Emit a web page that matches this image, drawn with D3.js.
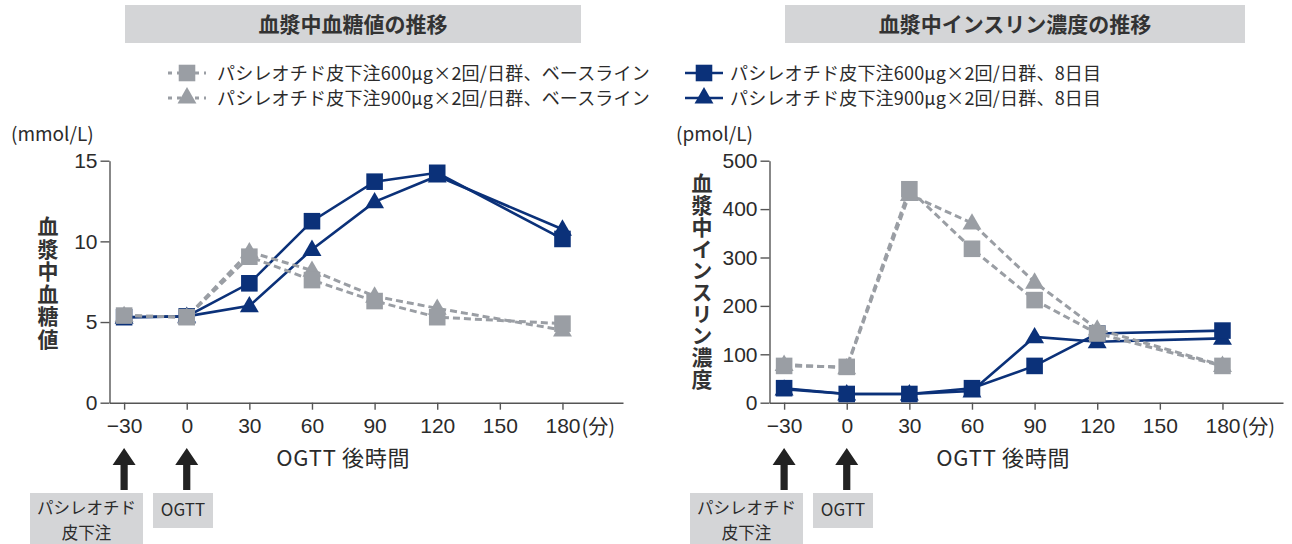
<!DOCTYPE html>
<html>
<head>
<meta charset="utf-8">
<script src="https://cdn.jsdelivr.net/npm/d3@7"></script>
<style>
  body { margin: 0; background: #fff; }
  svg { font-family: "Noto Sans CJK JP", "Noto Sans", sans-serif; }
</style>
</head>
<body>
<div id="chart"></div>
<script>
// sampling times (min after OGTT)
var minutes = [-30, 0, 30, 60, 90, 120, 180];
var xTicks = [-30, 0, 30, 60, 90, 120, 150, 180];

// plasma glucose (mmol/L)
var glucose600Base = [5.4, 5.3, 9.05, 7.6, 6.3, 5.3, 4.9];
var glucose900Base = [5.4, 5.3, 9.35, 8.2, 6.6, 5.85, 4.5];
var glucose600Day8 = [5.3, 5.35, 7.4, 11.25, 13.7, 14.25, 10.15];
var glucose900Day8 = [5.3, 5.35, 6.0, 9.5, 12.45, 14.05, 10.75];
var glucoseTicks = [0, 5, 10, 15];

// plasma insulin (pmol/L)
var insulin600Base = [76, 74, 441, 318, 212, 143, 76];
var insulin900Base = [79, 72, 430, 371, 249, 152, 77];
var insulin600Day8 = [30, 18, 18, 30, 76, 143, 149];
var insulin900Day8 = [28, 18, 18, 24, 136, 126, 133];
var insulinTicks = [0, 100, 200, 300, 400, 500];

var legendLabels = [
    "パシレオチド皮下注600μg×2回/日群、ベースライン",
    "パシレオチド皮下注900μg×2回/日群、ベースライン",
    "パシレオチド皮下注600μg×2回/日群、8日目",
    "パシレオチド皮下注900μg×2回/日群、8日目"
];

var blue = "#0b3179", grey = "#9a9ea4", boxGrey = "#d4d5d7", ink = "#2b2b2b";

var svg = d3.select("#chart").append("svg")
    .attr("width", 1292)
    .attr("height", 544);

// marker helpers
var sqSym = d3.symbol().type(d3.symbolSquare).size(275);
var triSym = d3.symbol().type(d3.symbolTriangle).size(155);

function drawPanel(opts) {
    var g = svg.append("g").attr("transform", "translate(" + opts.dx + ",0)");

    var x = d3.scaleLinear().domain([-37, 209]).range([109.5, 623]);
    var y = d3.scaleLinear().domain([0, opts.yMax]).range([402.7, 160.7]);

    // title box
    g.append("rect")
        .attr("x", 125).attr("y", 5)
        .attr("width", opts.boxW).attr("height", 38)
        .attr("fill", boxGrey);
    g.append("text")
        .attr("x", 125 + opts.boxW / 2).attr("y", 32)
        .attr("text-anchor", "middle")
        .style("font-size", "21px")
        .style("font-weight", "bold")
        .style("fill", "#333")
        .text(opts.title);

    // axes
    var yAxis = g.append("g")
        .attr("transform", "translate(109.5,0)")
        .call(d3.axisLeft(y).tickValues(opts.yTicks).tickSize(9).tickPadding(3).tickSizeOuter(0));
    var xAxis = g.append("g")
        .attr("transform", "translate(0,402.7)")
        .call(d3.axisBottom(x).tickValues(xTicks).tickSize(7).tickPadding(8).tickSizeOuter(0)
            .tickFormat(function(d) { return d < 0 ? "\u2212" + Math.abs(d) : d; }));
    [yAxis, xAxis].forEach(function(a) {
        a.selectAll("path, line").attr("stroke", "#555").attr("stroke-width", 1.4);
        a.selectAll("text").style("font-size", "21px").style("fill", ink).style("font-family", "inherit");
    });

    g.append("text")
        .attr("x", x(180) + 19).attr("y", 434)
        .style("font-size", "20px").style("fill", ink)
        .text("(分)");

    // unit
    g.append("text")
        .attr("x", opts.unitX).attr("y", 141)
        .style("font-size", "19px").style("fill", ink)
        .text(opts.unit);

    // vertical y title
    g.append("text")
        .attr("x", opts.yTitleX)
        .attr("y", opts.yTitleTop)
        .style("writing-mode", "vertical-rl")
        .style("font-size", "21px")
        .style("font-weight", "bold")
        .style("letter-spacing", opts.yTitleGap + "px")
        .style("fill", "#333")
        .text(opts.yTitle);

    // x title
    g.append("text")
        .attr("x", (x(-30) + x(180)) / 2).attr("y", 466)
        .attr("text-anchor", "middle")
        .style("font-size", "22px")
        .style("letter-spacing", "0.8px")
        .style("fill", ink)
        .text("OGTT\u2009後時間");

    // series
    var line = d3.line()
        .x(function(d, i) { return x(minutes[i]); })
        .y(function(d) { return y(d); });

    opts.series.forEach(function(s) {
        g.append("path")
            .datum(s.values)
            .attr("d", line)
            .attr("fill", "none")
            .attr("stroke", s.color)
            .attr("stroke-width", s.dashed ? 3 : 2.6)
            .attr("stroke-dasharray", s.dashed ? "7,4" : null);
        g.selectAll(null)
            .data(s.values)
            .enter().append("path")
            .attr("d", s.shape === "sq" ? sqSym : triSym)
            .attr("transform", function(d, i) {
                return "translate(" + x(minutes[i]) + "," + (y(d) + (s.shape === "tri" ? 1 : 0)) + ")";
            })
            .attr("fill", s.color);
    });

    // arrows under -30 and 0
    [-30, 0].forEach(function(m) {
        var cx = x(m);
        g.append("path")
            .attr("d", "M" + cx + ",448 L" + (cx + 11.5) + ",465 L" + (cx + 3.6) + ",465 L" + (cx + 3.6) + ",490 L" +
                (cx - 3.6) + ",490 L" + (cx - 3.6) + ",465 L" + (cx - 11.5) + ",465 Z")
            .attr("fill", "#222");
    });

    // annotation boxes
    g.append("rect").attr("x", 30).attr("y", 493).attr("width", 113).attr("height", 60).attr("fill", boxGrey);
    var note = g.append("text").attr("text-anchor", "middle")
        .style("font-size", "16.5px").style("fill", ink);
    note.append("tspan").attr("x", 86.5).attr("y", 514).text("パシレオチド");
    note.append("tspan").attr("x", 86.5).attr("y", 538.5).text("皮下注");
    g.append("rect").attr("x", 153).attr("y", 493).attr("width", 60).attr("height", 35).attr("fill", boxGrey);
    g.append("text").attr("x", 183).attr("y", 516).attr("text-anchor", "middle")
        .style("font-size", "17px").style("fill", ink).text("OGTT");
}

drawPanel({
    dx: 0, yMax: 15, yTicks: glucoseTicks, boxW: 456,
    title: "血漿中血糖値の推移", unit: "(mmol/L)", unitX: 11,
    yTitle: "血漿中血糖値", yTitleX: 48, yTitleTop: 216, yTitleGap: 1.5,
    series: [
        {values: glucose900Day8, color: blue, shape: "tri", dashed: false},
        {values: glucose600Day8, color: blue, shape: "sq", dashed: false},
        {values: glucose900Base, color: grey, shape: "tri", dashed: true},
        {values: glucose600Base, color: grey, shape: "sq", dashed: true}
    ]
});

drawPanel({
    dx: 660, yMax: 500, yTicks: insulinTicks, boxW: 460,
    title: "血漿中インスリン濃度の推移", unit: "(pmol/L)", unitX: 16,
    yTitle: "血漿中インスリン濃度", yTitleX: 42, yTitleTop: 173, yTitleGap: 0.7,
    series: [
        {values: insulin900Day8, color: blue, shape: "tri", dashed: false},
        {values: insulin600Day8, color: blue, shape: "sq", dashed: false},
        {values: insulin900Base, color: grey, shape: "tri", dashed: true},
        {values: insulin600Base, color: grey, shape: "sq", dashed: true}
    ]
});

// legend
var legendItems = [
    {label: legendLabels[0], color: grey, shape: "sq", dashed: true, lx: 168, ly: 73},
    {label: legendLabels[1], color: grey, shape: "tri", dashed: true, lx: 168, ly: 98},
    {label: legendLabels[2], color: blue, shape: "sq", dashed: false, lx: 685, ly: 73},
    {label: legendLabels[3], color: blue, shape: "tri", dashed: false, lx: 685, ly: 98}
];
var legend = svg.selectAll(".legend")
    .data(legendItems)
    .enter().append("g")
    .attr("class", "legend")
    .attr("transform", function(d) { return "translate(" + d.lx + "," + d.ly + ")"; });
legend.append("line")
    .attr("x1", 0).attr("x2", 38)
    .attr("stroke", function(d) { return d.color; })
    .attr("stroke-width", function(d) { return d.dashed ? 3 : 2.6; })
    .attr("stroke-dasharray", function(d) { return d.dashed ? "4,5" : null; });
legend.append("path")
    .attr("d", function(d) { return d.shape === "sq" ? sqSym() : triSym(); })
    .attr("transform", "translate(19," + 0 + ")")
    .attr("fill", function(d) { return d.color; });
legend.append("text")
    .attr("x", function(d) { return d.dashed ? 49 : 45; })
    .attr("y", 6.5)
    .style("font-size", "18px")
    .style("letter-spacing", "0.2px")
    .style("fill", ink)
    .text(function(d) { return d.label; });
</script>
</body>
</html>
